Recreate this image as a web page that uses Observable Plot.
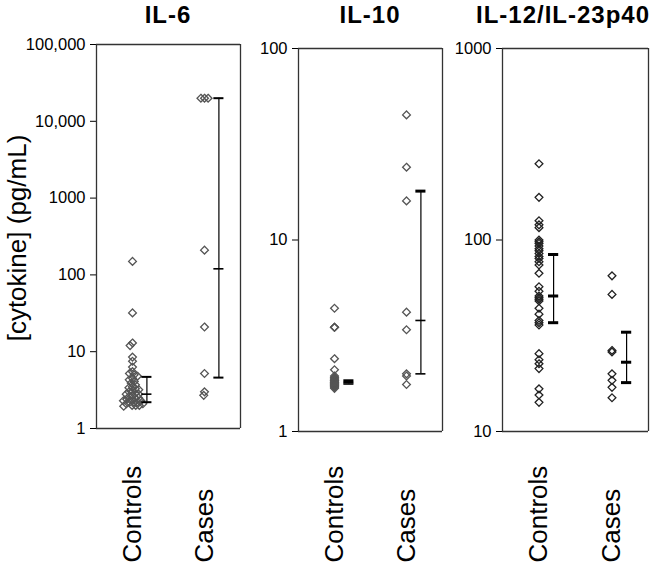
<!DOCTYPE html>
<html>
<head>
<meta charset="utf-8">
<script src="https://cdn.jsdelivr.net/npm/d3@7"></script>
<script src="https://cdn.jsdelivr.net/npm/@observablehq/plot@0.6"></script>
<style>
  body { margin: 0; background: #fff; }
  #chart { position: relative; width: 650px; height: 564px; overflow: hidden; background: #fff;
           font-family: "Liberation Sans", Arial, Helvetica, sans-serif; color: #000; }
  .panel { position: absolute; top: 0; }
  .title { position: absolute; top: 1px; font-weight: bold; font-size: 24px; line-height: 27px;
           letter-spacing: 1px; text-align: center; white-space: nowrap; }
  .ylabel { position: absolute; width: 300px; height: 30px; line-height: 30px; font-size: 26px;
            text-align: center; white-space: nowrap; transform: rotate(-90deg); }
</style>
</head>
<body>
<div id="chart"></div>
<script>
// ---- categories ----
const groups = ["Controls", "Cases"];
const panelTitles = ["IL-6", "IL-10", "IL-12/IL-23p40"];
const yAxisLabel = "[cytokine] (pg/mL)";

// ---- IL-6 (pg/mL) ----
const il6Controls = [150, 32, 13, 12, 8.5, 7.5, 6.3, 5.5, 5.2, 5, 4.8, 4.5, 4.3, 4.1, 3.9, 3.7, 3.5, 3.4,
  3.3, 3.2, 3.1, 3.0, 2.9, 2.8, 2.8, 2.7, 2.6, 2.5, 2.5, 2.4, 2.4, 2.3, 2.3, 2.2, 2.2, 2.2, 2.1, 2.1,
  2.0, 2.0, 2.0, 1.95];
const il6Cases = [20000, 20000, 20000, 210, 21, 5.2, 3.0, 2.7];
const il6Q1 = [2.2, 4.6];
const il6Median = [2.8, 120];
const il6Q3 = [4.7, 20000];
const il6Ticks = [1, 10, 100, 1000, 10000, 100000];
const il6TickLabels = ["1", "10", "100", "1000", "10,000", "100,000"];

// ---- IL-10 (pg/mL) ----
const il10Controls = [4.4, 3.5, 3.5, 3.5, 2.4, 2.1, 1.95, 1.92, 1.9, 1.88, 1.86, 1.85, 1.84, 1.82, 1.8,
  1.8, 1.79, 1.78, 1.77, 1.76, 1.75, 1.74, 1.73, 1.72, 1.7, 1.68];
const il10Cases = [45, 24, 16, 4.2, 3.4, 2.0, 1.95, 1.76];
const il10Q1 = [1.77, 2.0];
const il10Median = [1.8, 3.8];
const il10Q3 = [1.84, 18];
const il10Ticks = [1, 10, 100];
const il10TickLabels = ["1", "10", "100"];

// ---- IL-12/IL-23p40 (pg/mL) ----
const il12Controls = [250, 167, 126, 120, 116, 100, 98, 96, 93, 90, 88, 85, 82, 80, 77, 74, 67, 57, 54,
  51, 50, 49, 48, 44, 41, 38, 37, 36, 25.5, 23.7, 22.6, 21.3, 16.7, 15.5, 14.2];
const il12Cases = [65, 52, 26.5, 26, 20, 18.5, 17, 15];
const il12Q1 = [37, 18];
const il12Median = [51, 23];
const il12Q3 = [84, 33];
const il12Ticks = [10, 100, 1000];
const il12TickLabels = ["10", "100", "1000"];

// ---- layout / style ----
const xDomain = [-1, 1];
const barOffset = 0.4;
const capHalf = 0.14;
const FONT = '"Liberation Sans", Arial, Helvetica, sans-serif';

function makePanel(cfg) {
  const rows = [
    ...cfg.controls.map(v => ({group: groups[0], value: v})),
    ...cfg.cases.map(v => ({group: groups[1], value: v}))
  ];
  const summary = groups.map((g, i) => ({group: g, q1: cfg.q1[i], med: cfg.med[i], q3: cfg.q3[i]}));
  const edges = [{group: groups[0], x: xDomain[0]}, {group: groups[1], x: xDomain[1]}];
  const labelOf = new Map(cfg.ticks.map((t, i) => [t, cfg.tickLabels[i]]));
  const dotOpts = {fx: "group", y: "value", r: 3.5, symbol: "diamond2", fill: "none",
                   stroke: cfg.dotStroke, strokeWidth: 1.3};
  const dots = cfg.dodge
    ? Plot.dot(rows, Plot.dodgeX({anchor: "middle", padding: -3.4}, dotOpts))
    : Plot.dot(rows, {...dotOpts, x: () => 0});

  const svg = Plot.plot({
    width: cfg.width,
    height: 564,
    marginLeft: cfg.marginLeft,
    marginRight: cfg.marginRight,
    marginTop: cfg.marginTop,
    marginBottom: 564 - cfg.marginTop - cfg.innerHeight,
    style: {fontFamily: FONT, fontSize: "16.5px", color: "#000", background: "transparent"},
    fx: {domain: groups, padding: 0, axis: null},
    x: {domain: xDomain, axis: null},
    y: {type: "log", domain: cfg.domain, ticks: cfg.ticks, tickFormat: d => labelOf.get(d) ?? "",
        tickSize: 6, tickPadding: 5, label: null},
    marks: [
      Plot.ruleY(cfg.domain, {stroke: "#333", strokeWidth: 1.3}),
      Plot.ruleX(edges, {fx: "group", x: "x", stroke: "#333", strokeWidth: 1.3}),
      dots,
      Plot.ruleX(summary, {fx: "group", x: () => barOffset, y1: "q1", y2: "q3", stroke: "#000", strokeWidth: 1.2}),
      Plot.ruleY(summary, {fx: "group", y: "q1", x1: () => barOffset - capHalf, x2: () => barOffset + capHalf,
                           stroke: "#000", strokeWidth: cfg.caps[0]}),
      Plot.ruleY(summary, {fx: "group", y: "med", x1: () => barOffset - capHalf, x2: () => barOffset + capHalf,
                           stroke: "#000", strokeWidth: cfg.caps[1]}),
      Plot.ruleY(summary, {fx: "group", y: "q3", x1: () => barOffset - capHalf, x2: () => barOffset + capHalf,
                           stroke: "#000", strokeWidth: cfg.caps[2]}),
      Plot.text(groups, {fx: d => d, text: d => d, frameAnchor: "bottom", dy: cfg.labelDy, rotate: -90,
                         textAnchor: "start", lineAnchor: "middle", fontSize: 26, fill: "#000"})
    ]
  });
  const wrap = document.createElement("div");
  wrap.className = "panel";
  wrap.style.left = cfg.left + "px";
  wrap.appendChild(svg);
  return wrap;
}

const chart = document.getElementById("chart");

const panels = [
  {controls: il6Controls, cases: il6Cases, q1: il6Q1, med: il6Median, q3: il6Q3,
   ticks: il6Ticks, tickLabels: il6TickLabels, domain: [1, 100000],
   left: 0, width: 250, marginLeft: 96, marginRight: 10, marginTop: 44, innerHeight: 384,
   dodge: true, dotStroke: "#555", caps: [2, 1.6, 2], labelDy: 134},
  {controls: il10Controls, cases: il10Cases, q1: il10Q1, med: il10Median, q3: il10Q3,
   ticks: il10Ticks, tickLabels: il10TickLabels, domain: [1, 100],
   left: 250, width: 195, marginLeft: 48, marginRight: 3, marginTop: 48, innerHeight: 383,
   dodge: false, dotStroke: "#555", caps: [1.6, 1.6, 3], labelDy: 131},
  {controls: il12Controls, cases: il12Cases, q1: il12Q1, med: il12Median, q3: il12Q3,
   ticks: il12Ticks, tickLabels: il12TickLabels, domain: [10, 1000],
   left: 445, width: 205, marginLeft: 56, marginRight: 2, marginTop: 48, innerHeight: 383,
   dodge: false, dotStroke: "#222", caps: [3, 3, 3], labelDy: 131}
];
panels.forEach(p => chart.appendChild(makePanel(p)));

// titles
const titlePos = [[96, 144], [298, 144], [470, 186]];
panelTitles.forEach((t, i) => {
  const d = document.createElement("div");
  d.className = "title";
  d.style.left = titlePos[i][0] + "px";
  d.style.width = titlePos[i][1] + "px";
  d.textContent = t;
  chart.appendChild(d);
});

// y-axis label
const yl = document.createElement("div");
yl.className = "ylabel";
yl.style.left = (17 - 150) + "px";
yl.style.top = (238 - 15) + "px";
yl.textContent = yAxisLabel;
chart.appendChild(yl);
</script>
</body>
</html>
